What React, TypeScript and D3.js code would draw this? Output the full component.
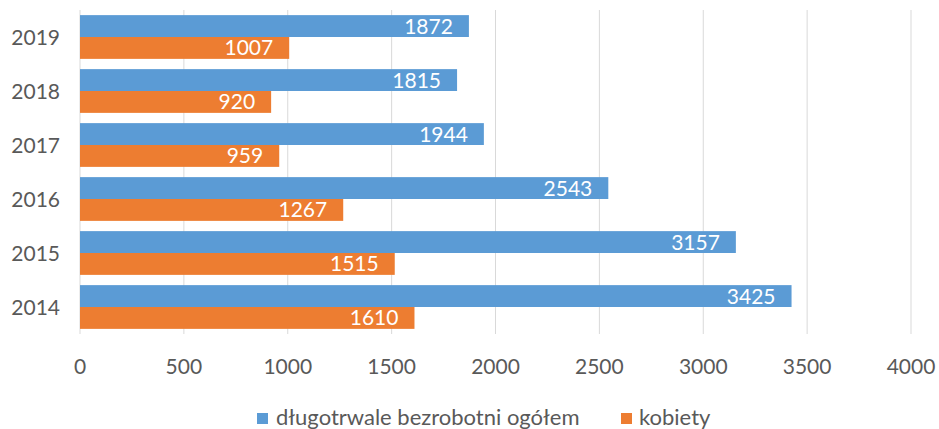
import React from 'react';
import * as d3 from 'd3';

const years = ['2019', '2018', '2017', '2016', '2015', '2014'];
const ogolem = [1872, 1815, 1944, 2543, 3157, 3425];
const kobiety = [1007, 920, 959, 1267, 1515, 1610];
const xTicks = [0, 500, 1000, 1500, 2000, 2500, 3000, 3500, 4000];
const seriesNames = ['długotrwale bezrobotni ogółem', 'kobiety'];
const colors = ['#5B9BD5', '#ED7D31'];

const W = 939, H = 429;
const FONT = 'Lato, "Open Sans", sans-serif';

export default function App() {
	const x = d3.scaleLinear().domain([0, 4000]).range([80, 911]);
	const y = d3.scaleBand().domain(years).range([10, 334]).paddingInner(0.19).paddingOuter(0.095);
	const sub = d3.scaleBand().domain(['0', '1']).range([0, y.bandwidth()]);
	const series = [ogolem, kobiety];

	return (
		<div style={{ position: 'absolute', left: 0, top: 0 }}>
			<svg width={W} height={H} style={{ display: 'block', background: '#fff' }} fontFamily={FONT}>
				{/* grid */}
				{xTicks.map(t =>
					<line key={t} x1={x(t)} x2={x(t)} y1={10} y2={334} stroke="#D9D9D9" strokeWidth={1} />
				)}
				{/* bars + labels */}
				{years.map((yr, i) =>
					series.map((s, k) => {
						const y0 = (y(yr) as number) + (sub(String(k)) as number);
						const h = sub.bandwidth();
						return (
							<g key={yr + k}>
								<rect x={x(0)} y={y0} width={x(s[i]) - x(0)} height={h} fill={colors[k]} />
								<text x={x(s[i]) - 16} y={y0 + h / 2} dy="0.36em" textAnchor="end" fill="#fff" fontSize={21}>{s[i]}</text>
							</g>
						);
					})
				)}
				{/* y axis labels */}
				{years.map(yr =>
					<text key={yr} x={60} y={(y(yr) as number) + y.bandwidth() / 2} dy="0.36em" textAnchor="end" fill="#595959" fontSize={21}>{yr}</text>
				)}
				{/* x axis labels */}
				{xTicks.map(t =>
					<text key={t} x={x(t)} y={366} dy="0.36em" textAnchor="middle" fill="#595959" fontSize={21}>{t}</text>
				)}
				{/* legend */}
				<rect x={257} y={413} width={11} height={11} fill={colors[0]} />
				<text x={276} y={425} fill="#595959" fontSize={22}>{seriesNames[0]}</text>
				<rect x={621} y={413} width={11} height={11} fill={colors[1]} />
				<text x={639} y={425} fill="#595959" fontSize={22}>{seriesNames[1]}</text>
			</svg>
		</div>
	);
}
